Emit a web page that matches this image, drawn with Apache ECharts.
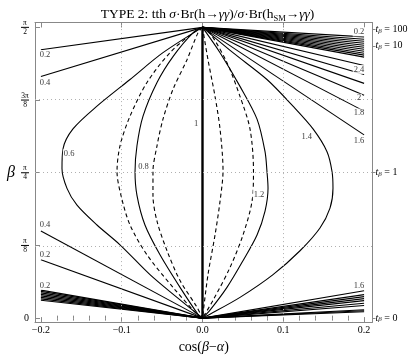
<!DOCTYPE html>
<html>
<head>
<meta charset="utf-8">
<script src="https://cdn.jsdelivr.net/npm/echarts@6/dist/echarts.min.js"></script>
<style>
html, body { margin: 0; padding: 0; background: #fff; }
#chart { width: 415px; height: 359px; }
</style>
</head>
<body>
<div id="chart"></div>
<script>
const PI = Math.PI;
const SERIF = '"Liberation Serif", "DejaVu Serif", serif';

// the two points every contour runs into
const apexTop = [0, PI / 2];
const apexBottom = [0, 0];

// curved contours, [cos(beta-alpha), beta]
const c06 = [[0, 1.5708], [-0.0489, 1.434], [-0.0897, 1.289], [-0.1306, 1.145], [-0.1603, 1.022],
  [-0.1726, 0.915], [-0.1739, 0.808], [-0.1677, 0.701], [-0.1553, 0.610], [-0.1306, 0.503],
  [-0.1021, 0.396], [-0.0650, 0.235], [-0.0316, 0.112], [0, 0]];
const c08 = [[0, 1.5708], [-0.0118, 1.541], [-0.0365, 1.413], [-0.0563, 1.273], [-0.0736, 1.091],
  [-0.0811, 0.931], [-0.0835, 0.792], [-0.0811, 0.663], [-0.0712, 0.503], [-0.0526, 0.342],
  [-0.0278, 0.166], [-0.0056, 0.021], [0, 0]];
const c12 = [[0, 1.5708], [0.0217, 1.434], [0.0464, 1.252], [0.0675, 1.075], [0.0774, 0.899],
  [0.0798, 0.792], [0.0811, 0.701], [0.0774, 0.578], [0.0675, 0.449], [0.0501, 0.310],
  [0.0303, 0.166], [0.0093, 0.043], [0, 0]];
const c14 = [[0, 1.5708], [0.0377, 1.434], [0.0798, 1.289], [0.1120, 1.145], [0.1368, 1.022],
  [0.1541, 0.899], [0.1603, 0.792], [0.1615, 0.701], [0.1578, 0.594], [0.1454, 0.487],
  [0.1207, 0.364], [0.0873, 0.235], [0.0464, 0.112], [0.0093, 0.021], [0, 0]];
const c10 = [apexBottom, apexTop];

// dashed contours
const dashLeftOut = [[0, 1.5708], [-0.0118, 1.541], [-0.0402, 1.434], [-0.0687, 1.273], [-0.0897, 1.091],
  [-0.1021, 0.931], [-0.1058, 0.792], [-0.1009, 0.663], [-0.0897, 0.503], [-0.0687, 0.342],
  [-0.0365, 0.166], [-0.0068, 0.021], [0, 0]];
const dashLeftIn = [[0, 1.5708], [-0.0056, 1.541], [-0.0192, 1.396], [-0.0365, 1.236], [-0.0489, 1.075],
  [-0.0563, 0.931], [-0.0613, 0.792], [-0.0613, 0.663], [-0.0563, 0.524], [-0.0439, 0.364],
  [-0.0278, 0.203], [-0.0068, 0.059], [0, 0]];
const dashRightIn = [[0, 1.5708], [0.0068, 1.396], [0.0155, 1.198], [0.0217, 1.022], [0.0254, 0.797],
  [0.0217, 0.631], [0.0155, 0.449], [0.0068, 0.235], [0, 0]];
const dashRightOut = [[0, 1.5708], [0.0093, 1.541], [0.0303, 1.380], [0.0464, 1.198], [0.0588, 1.022],
  [0.0631, 0.797], [0.0613, 0.631], [0.0501, 0.449], [0.0340, 0.273], [0.0130, 0.096], [0, 0]];

// straight fans: beta where each contour meets the edge of the plot
const fanTopLeft = [1.450, 1.3055];
const fanTopRight = [1.5195, 1.5062, 1.4955, 1.4848, 1.4741, 1.4634, 1.4527, 1.4420, 1.4313,
  1.4206, 1.4098, 1.3644, 1.3162, 1.2681, 1.2039, 1.1182, 0.9898];
const fanBottomLeft = [0.4708, 0.3157, 0.1514, 0.1445, 0.1364, 0.1284, 0.1204, 0.1124, 0.1043, 0.0963];
const fanBottomRight = [0.1482, 0.1268, 0.1161, 0.1054, 0.0947, 0.0803, 0.0680, 0.0455, 0.0401, 0.0348];

// contour labels [cos(beta-alpha), beta, text]
const labels = [
  [-0.195, 1.423, '0.2'], [-0.195, 1.273, '0.4'], [-0.165, 0.888, '0.6'], [-0.073, 0.819, '0.8'],
  [-0.008, 1.052, '1'], [0.0699, 0.669, '1.2'], [0.129, 0.979, '1.4'],
  [0.1937, 1.546, '0.2'], [0.1937, 1.343, '2.4'], [0.1937, 1.188, '2'], [0.1937, 1.108, '1.8'],
  [0.1937, 0.958, '1.6'],
  [-0.195, 0.503, '0.4'], [-0.195, 0.342, '0.2'], [-0.195, 0.177, '0.2'], [0.1937, 0.1766, '1.6']
];

const xTicks = [-0.2, -0.1, 0, 0.1, 0.2];
const xMinor = [-0.18, -0.16, -0.14, -0.12, -0.08, -0.06, -0.04, -0.02,
  0.02, 0.04, 0.06, 0.08, 0.12, 0.14, 0.16, 0.18];
const yTicks = [0, PI / 8, PI / 4, 3 * PI / 8, PI / 2];
const yTickText = ['0', 'π/8', 'π/4', '3π/8', 'π/2'];
const tanBeta = [100, 10, 1, 0];

const X_MIN = -0.2073, X_MAX = 0.2104, Y_MIN = -0.0214, Y_MAX = 1.597;

function contour(data, dashed, width) {
  return {
    type: 'line', data: data, showSymbol: false, silent: true, smooth: 0.3,
    lineStyle: { color: '#000', width: width || 1.1, type: dashed ? [4, 3] : 'solid' },
    z: 3
  };
}

const series = [];
fanTopLeft.forEach(b => series.push(contour([apexTop, [-0.2, b]])));
fanTopRight.forEach(b => series.push(contour([apexTop, [0.2, b]])));
fanBottomLeft.forEach(b => series.push(contour([apexBottom, [-0.2, b]])));
fanBottomRight.forEach(b => series.push(contour([apexBottom, [0.2, b]])));
[c06, c08, c12, c14].forEach(c => series.push(contour(c)));
[dashLeftOut, dashLeftIn, dashRightIn, dashRightOut].forEach(c => series.push(contour(c, true)));
series.push(contour(c10, false, 2.4));

// dotted grid
series.push({
  type: 'line', data: [], silent: true,
  markLine: {
    silent: true, symbol: 'none', label: { show: false },
    lineStyle: { color: '#b0b0b0', width: 1, type: [1, 3] },
    data: [{ xAxis: -0.1 }, { xAxis: 0.1 }, { yAxis: PI / 8 }, { yAxis: PI / 4 }, { yAxis: 3 * PI / 8 }]
  },
  z: 1
});

series.push({
  type: 'scatter', data: labels, symbolSize: 1, silent: true,
  itemStyle: { color: 'rgba(0,0,0,0)' },
  label: {
    show: true, position: 'inside', formatter: p => p.data[2],
    fontFamily: SERIF, fontSize: 8.5, color: '#000',
    backgroundColor: '#fff', padding: [0, 1]
  },
  z: 5
});

function xLabel(v) {
  if (Math.abs(v) < 1e-9) return '0.0';
  return (v < 0 ? '\u2212' : '') + Math.abs(v).toFixed(1);
}

function yLabel(v) {
  const i = yTicks.findIndex(t => Math.abs(t - v) < 1e-6);
  const s = yTickText[i];
  if (s === '0') return '{z|0}';
  const parts = s.split('/');
  return '{n|' + parts[0] + '}\n{bar| }\n{d|' + parts[1] + '}';
}

const frame = { show: true, onZero: false, lineStyle: { color: '#888', width: 1 } };
const titleBase = { fontFamily: SERIF, fontSize: 13.5, color: '#000', fontWeight: 'normal', lineHeight: 17 };

const chart = echarts.init(document.getElementById('chart'), null, { renderer: 'canvas' });
chart.setOption({
  animation: false,
  backgroundColor: '#fff',
  title: {
    text: '{a|TYPE 2: tth }{i|σ}{a|·Br(h→}{i|γγ}{a|)/}{i|σ}{a|·Br(h}{s|SM}{a|→}{i|γγ}{a|)}',
    left: 'center', top: 1,
    textStyle: {
      fontWeight: 'normal',
      rich: {
        a: titleBase,
        i: Object.assign({}, titleBase, { fontStyle: 'italic' }),
        s: { fontFamily: SERIF, fontSize: 8.5, color: '#000', fontWeight: 'normal', verticalAlign: 'bottom', lineHeight: 14 }
      }
    }
  },
  grid: { left: 35, right: 42.5, top: 22.5, bottom: 34 },
  xAxis: [
    {
      type: 'value', min: X_MIN, max: X_MAX, position: 'bottom',
      axisLine: frame, splitLine: { show: false },
      axisTick: { show: true, inside: true, length: 5, customValues: xTicks, lineStyle: { color: '#888' } },
      axisLabel: { customValues: xTicks, formatter: xLabel, fontFamily: SERIF, fontSize: 10, color: '#000', margin: 3 },
      name: 'cos({i|β}\u2212{i|α})', nameLocation: 'middle', nameGap: 15,
      nameTextStyle: {
        fontFamily: SERIF, fontSize: 14, color: '#000',
        rich: { i: { fontFamily: SERIF, fontSize: 14, fontStyle: 'italic', color: '#000' } }
      }
    },
    {
      type: 'value', min: X_MIN, max: X_MAX, position: 'top',
      axisLine: frame, splitLine: { show: false }, axisLabel: { show: false },
      axisTick: { show: true, inside: true, length: 5, customValues: xTicks, lineStyle: { color: '#888' } }
    },
    {
      type: 'value', min: X_MIN, max: X_MAX, position: 'bottom',
      axisLine: { show: false }, splitLine: { show: false }, axisLabel: { show: false },
      axisTick: { show: true, inside: true, length: 2.5, customValues: xMinor, lineStyle: { color: '#888' } }
    },
    {
      type: 'value', min: X_MIN, max: X_MAX, position: 'top',
      axisLine: { show: false }, splitLine: { show: false }, axisLabel: { show: false },
      axisTick: { show: true, inside: true, length: 2.5, customValues: xMinor, lineStyle: { color: '#888' } }
    }
  ],
  yAxis: [
    {
      type: 'value', min: Y_MIN, max: Y_MAX, position: 'left',
      axisLine: frame, splitLine: { show: false },
      axisTick: { show: true, inside: true, length: 5, customValues: yTicks, lineStyle: { color: '#888' } },
      axisLabel: {
        customValues: yTicks, formatter: yLabel, margin: 6, color: '#000',
        rich: {
          z: { fontFamily: SERIF, fontSize: 10, color: '#000' },
          n: { fontFamily: SERIF, fontSize: 7.5, lineHeight: 7, align: 'center', color: '#000' },
          bar: { width: 8, height: 1, lineHeight: 2, fontSize: 1, backgroundColor: '#000', align: 'center' },
          d: { fontFamily: SERIF, fontSize: 7.5, lineHeight: 7, align: 'center', color: '#000' }
        }
      },
      name: 'β', nameLocation: 'middle', nameRotate: 0, nameGap: 20,
      nameTextStyle: { fontFamily: SERIF, fontSize: 16, fontStyle: 'italic', color: '#000' }
    },
    {
      type: 'value', min: Y_MIN, max: Y_MAX, position: 'right',
      axisLine: frame, splitLine: { show: false },
      axisTick: { show: true, inside: false, length: 3, customValues: tanBeta.map(t => Math.atan(t)), lineStyle: { color: '#888' } },
      axisLabel: {
        customValues: tanBeta.map(t => Math.atan(t)), margin: 3, color: '#000',
        formatter: v => {
          const t = tanBeta.find(k => Math.abs(Math.atan(k) - v) < 1e-6);
          return '{t|t}{b|β}{a| = ' + t + '}';
        },
        rich: {
          t: { fontFamily: SERIF, fontSize: 10, fontStyle: 'italic', color: '#000' },
          b: { fontFamily: SERIF, fontSize: 7, fontStyle: 'italic', color: '#000', verticalAlign: 'bottom' },
          a: { fontFamily: SERIF, fontSize: 10, color: '#000' }
        }
      }
    }
  ],
  series: series
});
</script>
</body>
</html>
